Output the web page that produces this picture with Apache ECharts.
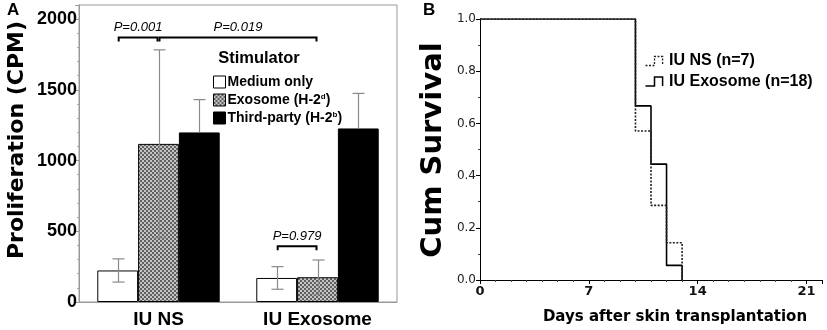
<!DOCTYPE html>
<html><head><meta charset="utf-8">
<script src="https://cdn.jsdelivr.net/npm/echarts@6/dist/echarts.min.js"></script>
<style>html,body{margin:0;padding:0;background:#fff}#c{width:827px;height:330px}</style>
</head><body><div id="c"></div>
<script>
// ---------- Panel A data ----------
const groups = ['IU NS', 'IU Exosome'];
const stimNames = ['Medium only', 'Exosome (H-2d)', 'Third-party (H-2b)'];
const mediumMean = [223, 170];
const mediumSD = [82, 80];
const exosomeMean = [1118, 175];
const exosomeSD = [665, 122];
const thirdMean = [1199, 1227];
const thirdSD = [232, 248];

const sigLabels = ['P=0.001', 'P=0.019', 'P=0.979'];
const sigFromGroup = [0, 0, 1];
const sigFromBar = [0, 1, 0];
const sigToGroup = [0, 1, 1];
const sigToBar = [1, 1, 1];
const sigLevel = [1870, 1870, 395];

// ---------- Panel B data ----------
const survNames = ['IU NS (n=7)', 'IU Exosome (n=18)'];
const nsDays = [0, 10, 11, 12, 13];
const nsSurv = [1, 0.571, 0.286, 0.143, 0];
const exoDays = [0, 10, 11, 12, 13];
const exoSurv = [1, 0.667, 0.444, 0.056, 0];

const GAP = 0.23;

function makePattern() {
  const c = document.createElement('canvas');
  c.width = 4; c.height = 4;
  const x = c.getContext('2d');
  x.fillStyle = '#c4c4c4'; x.fillRect(0, 0, 4, 4);
  x.fillStyle = '#606060'; x.fillRect(0, 0, 2, 2); x.fillRect(2, 2, 2, 2);
  return c;
}
const grayPattern = { image: makePattern(), repeat: 'repeat' };

function barSeries(name, data, color) {
  return {
    type: 'bar', name: name, xAxisIndex: 0, yAxisIndex: 0, data: data,
    barGap: '0%', barCategoryGap: (GAP * 100) + '%', z: 2,
    itemStyle: { color: color, borderColor: '#000', borderWidth: 1 }
  };
}

function errSeries(means, sds, barIdx, showLower) {
  return {
    type: 'custom', name: 'err' + barIdx, xAxisIndex: 0, yAxisIndex: 0, z: 3,
    encode: { x: 0, y: 1 },
    data: means.map((m, i) => [i, m, sds[i]]),
    renderItem(params, api) {
      const ci = api.value(0), m = api.value(1), sd = api.value(2);
      const band = api.size([1, 0])[0];
      const bw = band * (1 - GAP) / 3;
      const cx = Math.round(api.coord([ci, m])[0] + (barIdx - 1) * bw) + 0.5;
      const yTop = api.coord([ci, m + sd])[1];
      const yBot = api.coord([ci, showLower ? m - sd : m])[1];
      const cap = 6;
      const st = { stroke: '#8a8a8a', lineWidth: 1.2 };
      const ch = [
        { type: 'line', shape: { x1: cx, y1: yTop, x2: cx, y2: yBot }, style: st },
        { type: 'line', shape: { x1: cx - cap, y1: yTop, x2: cx + cap, y2: yTop }, style: st }
      ];
      if (showLower) ch.push({ type: 'line', shape: { x1: cx - cap, y1: yBot, x2: cx + cap, y2: yBot }, style: st });
      return { type: 'group', children: ch };
    }
  };
}

const sigSeries = {
  type: 'custom', name: 'sig', xAxisIndex: 0, yAxisIndex: 0, z: 4,
  encode: { x: 0, y: 2 },
  data: sigLevel.map((v, i) => [sigFromGroup[i], sigToGroup[i], v, sigFromBar[i], sigToBar[i]]),
  renderItem(params, api) {
    const i = params.dataIndex;
    const band = api.size([1, 0])[0];
    const bw = band * (1 - GAP) / 3;
    const x1 = api.coord([api.value(0), 0])[0] + (api.value(3) - 1) * bw + 1;
    const x2 = api.coord([api.value(1), 0])[0] + (api.value(4) - 1) * bw - 1;
    const y = api.coord([0, api.value(2)])[1];
    return {
      type: 'group', children: [
        { type: 'polyline', shape: { points: [[x1, y + 4], [x1, y], [x2, y], [x2, y + 4]] },
          style: { stroke: '#000', lineWidth: 2, fill: null } },
        { type: 'text', style: { text: sigLabels[i], x: (x1 + x2) / 2, y: y - 10, align: 'center',
          verticalAlign: 'middle', fontStyle: 'italic', fontSize: 13, fontFamily: '"Liberation Sans", Arial', fill: '#000' } }
      ]
    };
  }
};

function survData(days, surv) { return days.map((d, i) => [d, surv[i]]); }

const chart = echarts.init(document.getElementById('c'), null, { renderer: 'canvas' });
chart.setOption({
  animation: false,
  backgroundColor: '#fff',
  title: [
    { text: 'A', left: 5, top: 0, padding: 2,
      textStyle: { fontSize: 17, fontWeight: 'bold', fontFamily: '"Liberation Sans", Arial', color: '#000' } },
    { text: 'B', left: 421, top: 0, padding: 2,
      textStyle: { fontSize: 17, fontWeight: 'bold', fontFamily: '"Liberation Sans", Arial', color: '#000' } }
  ],
  grid: [
    { left: 79, top: 5, width: 318, height: 297, show: true, borderColor: '#999', borderWidth: 1 },
    { left: 480, top: 19, width: 342, height: 261 }
  ],
  xAxis: [
    { type: 'category', gridIndex: 0, data: groups,
      axisLine: { lineStyle: { color: '#999' } }, axisTick: { show: false },
      axisLabel: { color: '#000', fontWeight: 'bold', fontSize: 19, fontFamily: '"Liberation Sans", Arial', margin: 8 } },
    { type: 'value', gridIndex: 1, min: 0, max: 22, interval: 7,
      axisLine: { lineStyle: { color: '#000' } },
      axisTick: { length: 4, lineStyle: { color: '#000' } },
      minorTick: { show: true, splitNumber: 7, length: 2, lineStyle: { color: '#444' } },
      splitLine: { show: false },
      axisLabel: { color: '#111', fontWeight: 'bold', fontSize: 13, fontFamily: '"DejaVu Sans"', margin: 5,
        formatter: v => (v === 22 ? '' : String(v)) } }
  ],
  yAxis: [
    { type: 'value', gridIndex: 0, min: 0, max: 2100, interval: 500,
      axisLine: { show: true, lineStyle: { color: '#999' } },
      axisTick: { show: true, length: 4, lineStyle: { color: '#999' } },
      minorTick: { show: true, splitNumber: 5, length: 2, lineStyle: { color: '#aaa' } },
      splitLine: { show: false },
      axisLabel: { color: '#000', fontWeight: 'bold', fontSize: 18, fontFamily: '"Liberation Sans", Arial', margin: 2,
        formatter: v => (v === 2100 ? '' : String(v)) } },
    { type: 'value', gridIndex: 1, min: 0, max: 1, interval: 0.2,
      axisLine: { show: true, lineStyle: { color: '#000' } },
      axisTick: { show: true, length: 4, lineStyle: { color: '#000' } },
      minorTick: { show: true, splitNumber: 2, length: 2, lineStyle: { color: '#444' } },
      splitLine: { show: false },
      axisLabel: { color: '#222', fontSize: 12, fontFamily: '"DejaVu Sans"', margin: 4,
        formatter: v => v.toFixed(1) } }
  ],
  legend: [
    { orient: 'vertical', left: 208, top: 70, itemWidth: 12, itemHeight: 12, itemGap: 3.5, icon: 'rect',
      data: stimNames,
      itemStyle: { borderColor: '#000', borderWidth: 1 },
      textStyle: { color: '#000', fontWeight: 'bold', fontSize: 14, fontFamily: '"Liberation Sans", Arial', lineHeight: 14,
        padding: [0, 0, 0, -3],
        rich: { sup: { fontSize: 8, fontWeight: 'bold', fontFamily: '"Liberation Sans", Arial', color: '#000', padding: [0, 0, 7, 0] } } },
      formatter: name => name.replace(/H-2([db])\)/, 'H-2{sup|$1})'),
      selectedMode: false },
    { orient: 'vertical', left: 638, top: 48, itemWidth: 20, itemHeight: 9, itemGap: 4.5,
      icon: 'path://M0,10 L10,10 L10,0 L19,0 L19,10',
      data: [
        { name: survNames[0], itemStyle: { color: 'none', borderColor: '#222', borderWidth: 1.3, borderType: [2, 1.5] } },
        { name: survNames[1], itemStyle: { color: 'none', borderColor: '#000', borderWidth: 1.5, borderType: 'solid' } }
      ],
      textStyle: { color: '#000', fontWeight: 'bold', fontSize: 16, fontFamily: '"Liberation Sans", Arial', lineHeight: 16 },
      selectedMode: false }
  ],
  graphic: [
    { type: 'text', x: 17, y: 140, rotation: Math.PI / 2,
      style: { text: 'Proliferation (CPM)', fontSize: 22, fontWeight: 'bold', fontFamily: '"DejaVu Sans"', fill: '#000', align: 'center', verticalAlign: 'middle' } },
    { type: 'text', x: 259, y: 58,
      style: { text: 'Stimulator', fontSize: 16.5, fontWeight: 'bold', fontFamily: '"Liberation Sans", Arial', fill: '#000', align: 'center', verticalAlign: 'middle' } },
    { type: 'text', x: 433, y: 150, rotation: Math.PI / 2,
      style: { text: 'Cum Survival', fontSize: 29, fontWeight: 'bold', fontFamily: '"DejaVu Sans"', fill: '#000', align: 'center', verticalAlign: 'middle' } },
    { type: 'text', x: 675, y: 317,
      style: { text: 'Days after skin transplantation', fontSize: 15, fontWeight: 'bold', fontFamily: '"DejaVu Sans"', fill: '#000', align: 'center', verticalAlign: 'middle' } }
  ],
  series: [
    barSeries(stimNames[0], mediumMean, '#ffffff'),
    barSeries(stimNames[1], exosomeMean, grayPattern),
    barSeries(stimNames[2], thirdMean, '#000000'),
    errSeries(mediumMean, mediumSD, 0, true),
    errSeries(exosomeMean, exosomeSD, 1, true),
    errSeries(thirdMean, thirdSD, 2, false),
    sigSeries,
    { type: 'line', name: survNames[1], xAxisIndex: 1, yAxisIndex: 1, step: 'end', symbol: 'none', z: 2,
      data: survData(exoDays, exoSurv),
      itemStyle: { color: '#000' }, lineStyle: { color: '#000', width: 1.6 } },
    { type: 'line', name: survNames[0], xAxisIndex: 1, yAxisIndex: 1, step: 'end', symbol: 'none', z: 3,
      data: survData(nsDays, nsSurv),
      itemStyle: { color: '#222' }, lineStyle: { color: '#222', width: 1.6, type: [2, 1.5] } }
  ]
});
</script></body></html>
